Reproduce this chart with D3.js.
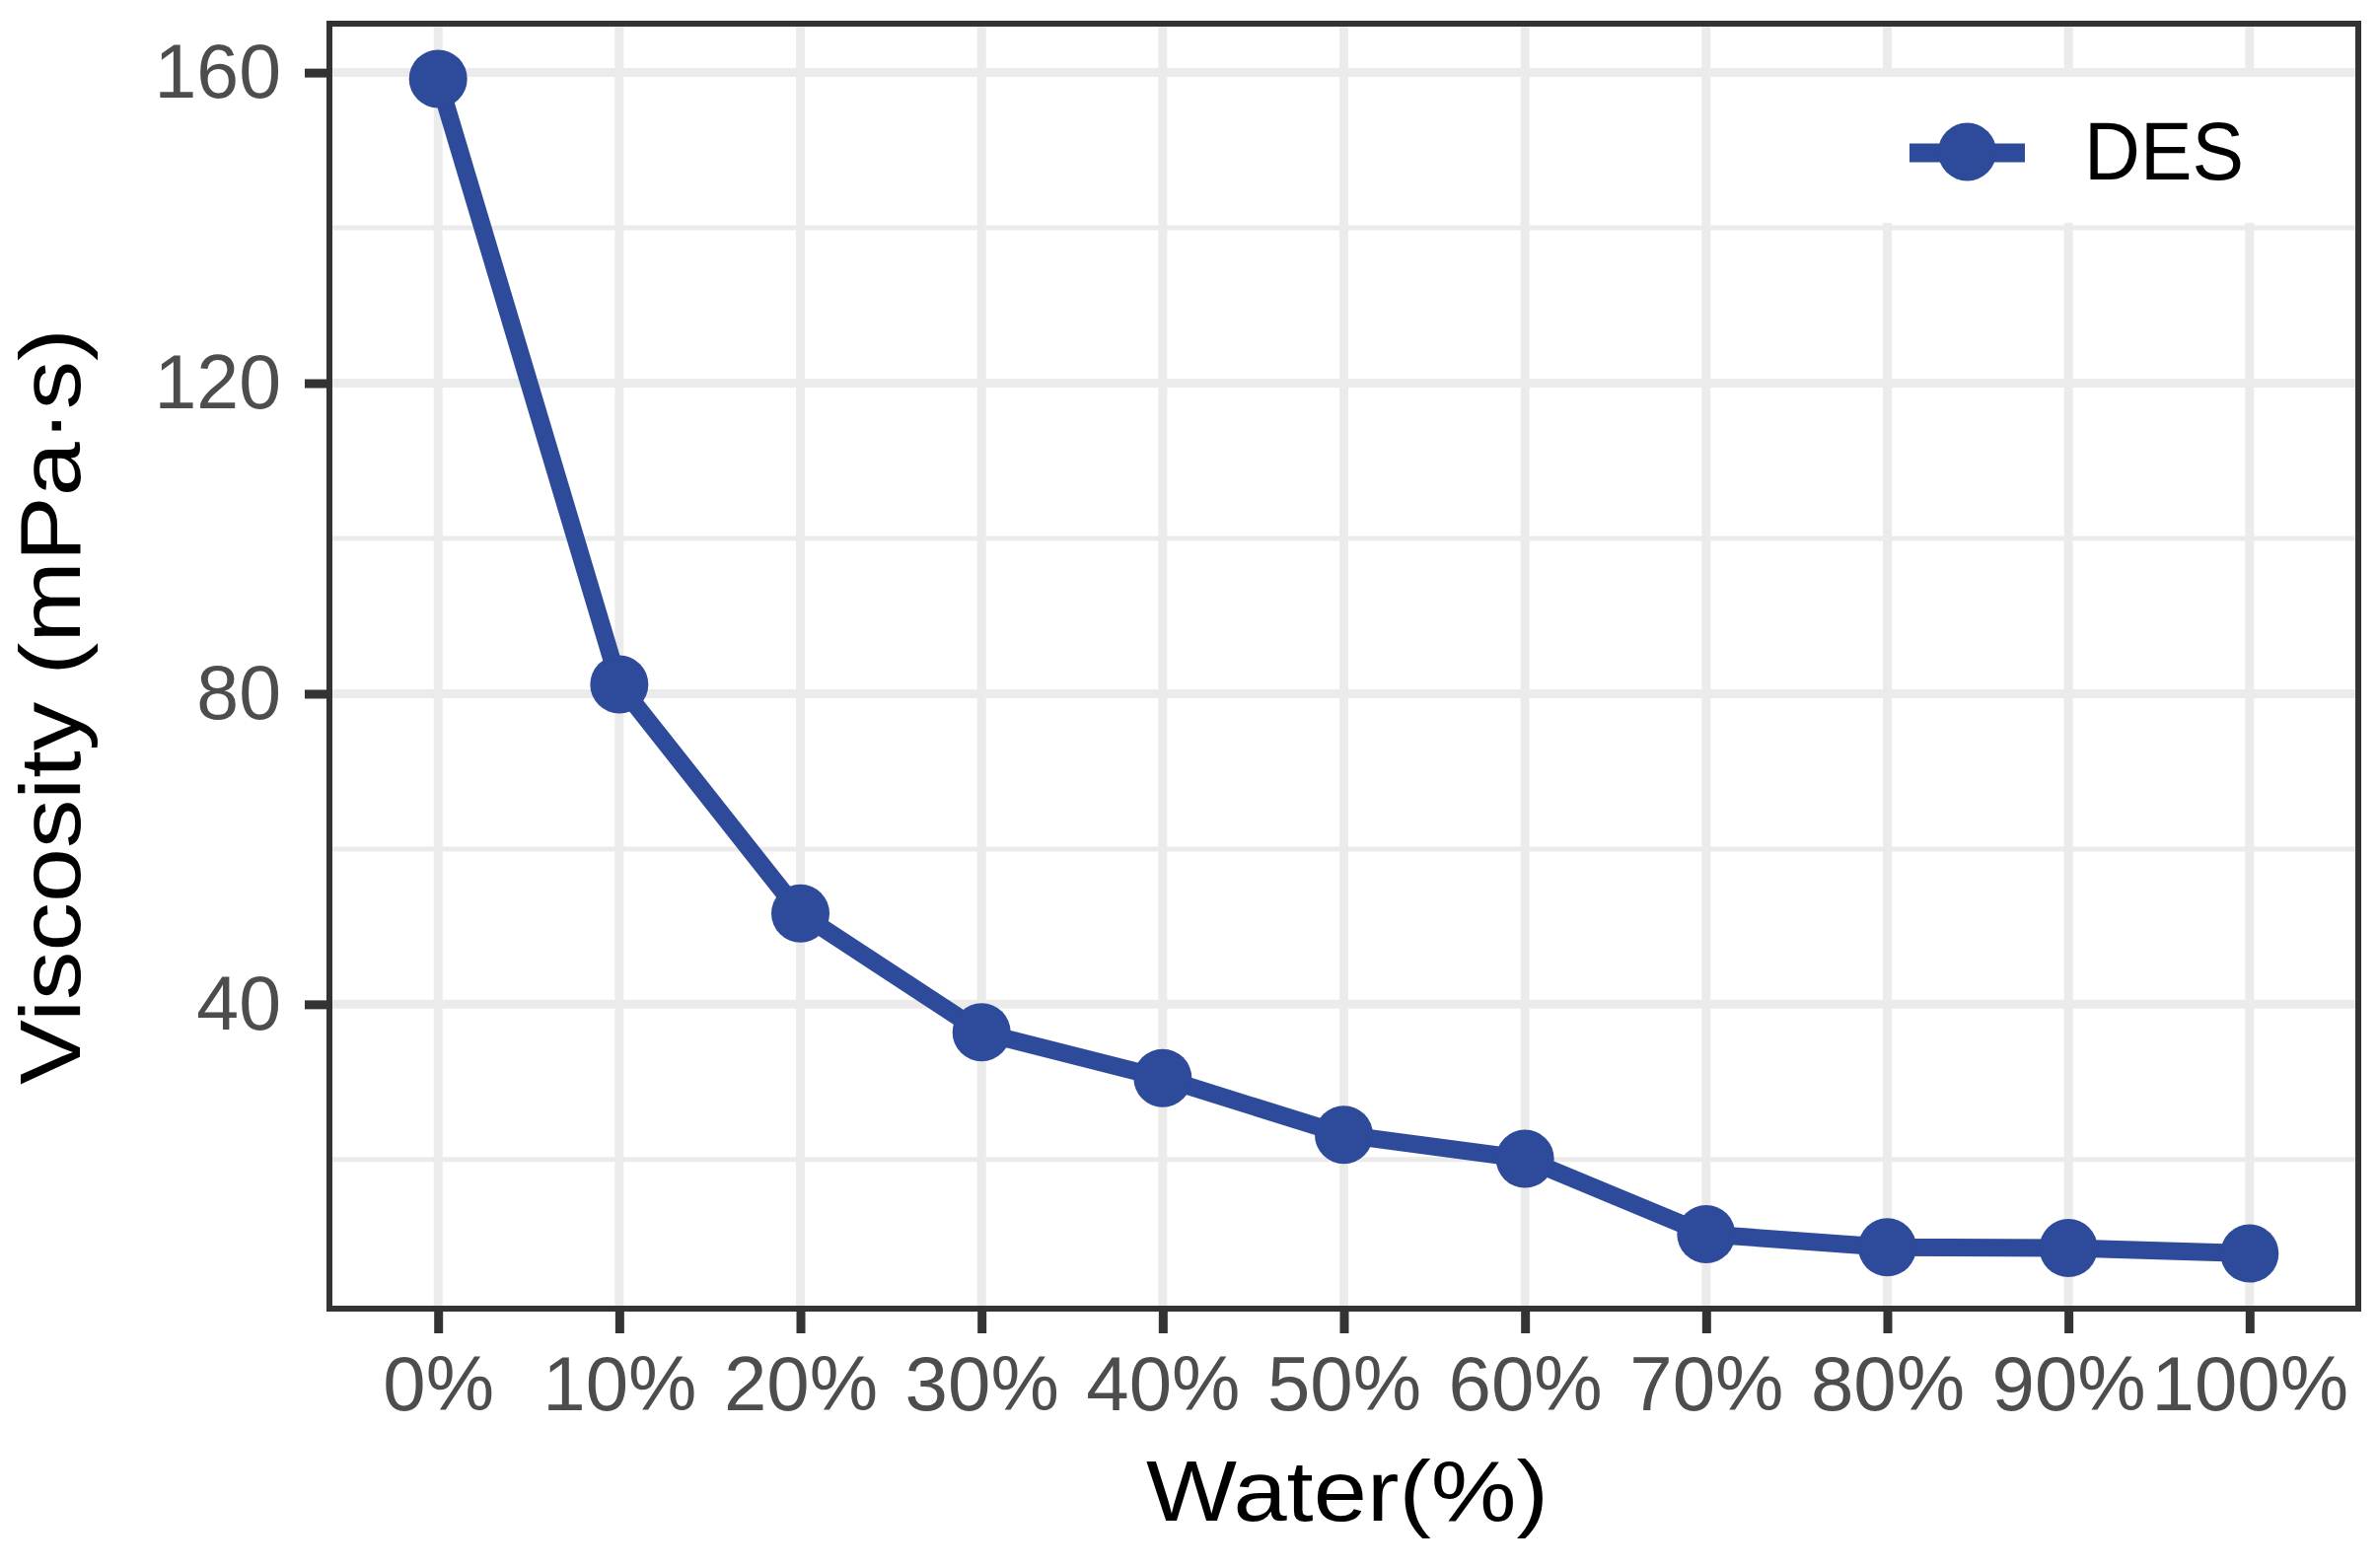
<!DOCTYPE html>
<html>
<head>
<meta charset="utf-8">
<script src="https://cdn.jsdelivr.net/npm/d3@7"></script>
<style>
  html, body { margin: 0; padding: 0; background: #ffffff; }
  svg { display: block; }
  text { font-family: "Liberation Sans", Arial, Helvetica, sans-serif; }
</style>
</head>
<body>
<svg id="chart" width="2411" height="1590"></svg>
<script>
// ---- data ----
const categories = ["0%", "10%", "20%", "30%", "40%", "50%", "60%", "70%", "80%", "90%", "100%"];
const viscosity = [159.2, 81.2, 51.7, 36.4, 30.5, 23.2, 20.1, 10.4, 8.7, 8.6, 7.9];
const seriesName = "DES";
const yMajorTicks = [40, 80, 120, 160];
const yMinorTicks = [20, 60, 100, 140];
const yLimits = [0.8, 166.3];
const xTitle = "Water(%)";
const yTitle = "Viscosity (mPa\u00B7s)";

// ---- layout ----
const W = 2411, H = 1590;
const panel = { left: 334, right: 2391, top: 24, bottom: 1327 };
const lineColor = "#2E4A9A";
const gridColor = "#EBEBEB";
const axisColor = "#333333";
const tickTextColor = "#4D4D4D";

const svg = d3.select("#chart");
svg.append("rect").attr("width", W).attr("height", H).attr("fill", "#ffffff");

const x = d3.scalePoint().domain(categories).range([panel.left, panel.right]).padding(0.6);
const y = d3.scaleLinear().domain(yLimits).range([panel.bottom, panel.top]);

const data = categories.map((c, i) => ({ c, v: viscosity[i] }));

// panel background
svg.append("rect")
  .attr("x", panel.left).attr("y", panel.top)
  .attr("width", panel.right - panel.left).attr("height", panel.bottom - panel.top)
  .attr("fill", "#ffffff");

const grid = svg.append("g");
// minor horizontal
grid.selectAll("line.minor").data(yMinorTicks).enter().append("line")
  .attr("x1", panel.left).attr("x2", panel.right)
  .attr("y1", d => y(d)).attr("y2", d => y(d))
  .attr("stroke", gridColor).attr("stroke-width", 5);
// major horizontal
grid.selectAll("line.majorY").data(yMajorTicks).enter().append("line")
  .attr("x1", panel.left).attr("x2", panel.right)
  .attr("y1", d => y(d)).attr("y2", d => y(d))
  .attr("stroke", gridColor).attr("stroke-width", 9);
// major vertical
grid.selectAll("line.majorX").data(categories).enter().append("line")
  .attr("y1", panel.top).attr("y2", panel.bottom)
  .attr("x1", d => x(d)).attr("x2", d => x(d))
  .attr("stroke", gridColor).attr("stroke-width", 9);

// legend background (covers grid)
const legendG = svg.append("g");
legendG.append("rect")
  .attr("x", 1897).attr("y", 78)
  .attr("width", 400).attr("height", 148)
  .attr("fill", "#ffffff");

// data line + points
svg.append("path")
  .datum(data)
  .attr("d", d3.line().x(d => x(d.c)).y(d => y(d.v)))
  .attr("fill", "none")
  .attr("stroke", lineColor)
  .attr("stroke-width", 18)
  .attr("stroke-linejoin", "round");

svg.selectAll("circle.pt").data(data).enter().append("circle")
  .attr("cx", d => x(d.c)).attr("cy", d => y(d.v))
  .attr("r", 29.5)
  .attr("fill", lineColor);

// legend key
legendG.append("line")
  .attr("x1", 1936).attr("x2", 2053)
  .attr("y1", 155).attr("y2", 155)
  .attr("stroke", lineColor).attr("stroke-width", 19);
legendG.append("circle")
  .attr("cx", 1994.5).attr("cy", 154).attr("r", 29.5)
  .attr("fill", lineColor);
legendG.append("text")
  .attr("x", 2113).attr("y", 181.5)
  .attr("font-size", 84)
  .attr("fill", "#000000")
  .attr("textLength", 162).attr("lengthAdjust", "spacingAndGlyphs")
  .text(seriesName);

// panel border
svg.append("rect")
  .attr("x", panel.left).attr("y", panel.top)
  .attr("width", panel.right - panel.left).attr("height", panel.bottom - panel.top)
  .attr("fill", "none").attr("stroke", axisColor).attr("stroke-width", 6);

// axes
const xAxis = svg.append("g")
  .attr("transform", `translate(0,${panel.bottom})`)
  .call(d3.axisBottom(x).tickSize(25).tickPadding(0));
xAxis.select(".domain").remove();
xAxis.selectAll(".tick line").attr("stroke", axisColor).attr("stroke-width", 9);
xAxis.selectAll(".tick text")
  .attr("y", 103).attr("dy", null)
  .attr("font-size", 78)
  .attr("font-family", "'Liberation Sans', Arial, sans-serif")
  .attr("fill", tickTextColor);

const yAxis = svg.append("g")
  .attr("transform", `translate(${panel.left},0)`)
  .call(d3.axisLeft(y).tickValues(yMajorTicks).tickSize(25).tickPadding(0).tickFormat(d3.format("d")));
yAxis.select(".domain").remove();
yAxis.selectAll(".tick line").attr("stroke", axisColor).attr("stroke-width", 9);
yAxis.selectAll(".tick text")
  .attr("x", -49).attr("dy", 25)
  .attr("font-size", 77)
  .attr("font-family", "'Liberation Sans', Arial, sans-serif")
  .attr("fill", tickTextColor);

// axis titles
svg.append("text")
  .attr("x", 1162).attr("y", 1542)
  .attr("font-size", 88)
  .attr("fill", "#000000")
  .attr("textLength", 408).attr("lengthAdjust", "spacingAndGlyphs")
  .text(xTitle);

svg.append("text")
  .attr("transform", "translate(81,1100) rotate(-90)")
  .attr("font-size", 87)
  .attr("fill", "#000000")
  .attr("textLength", 767).attr("lengthAdjust", "spacingAndGlyphs")
  .text(yTitle);
</script>
</body>
</html>
